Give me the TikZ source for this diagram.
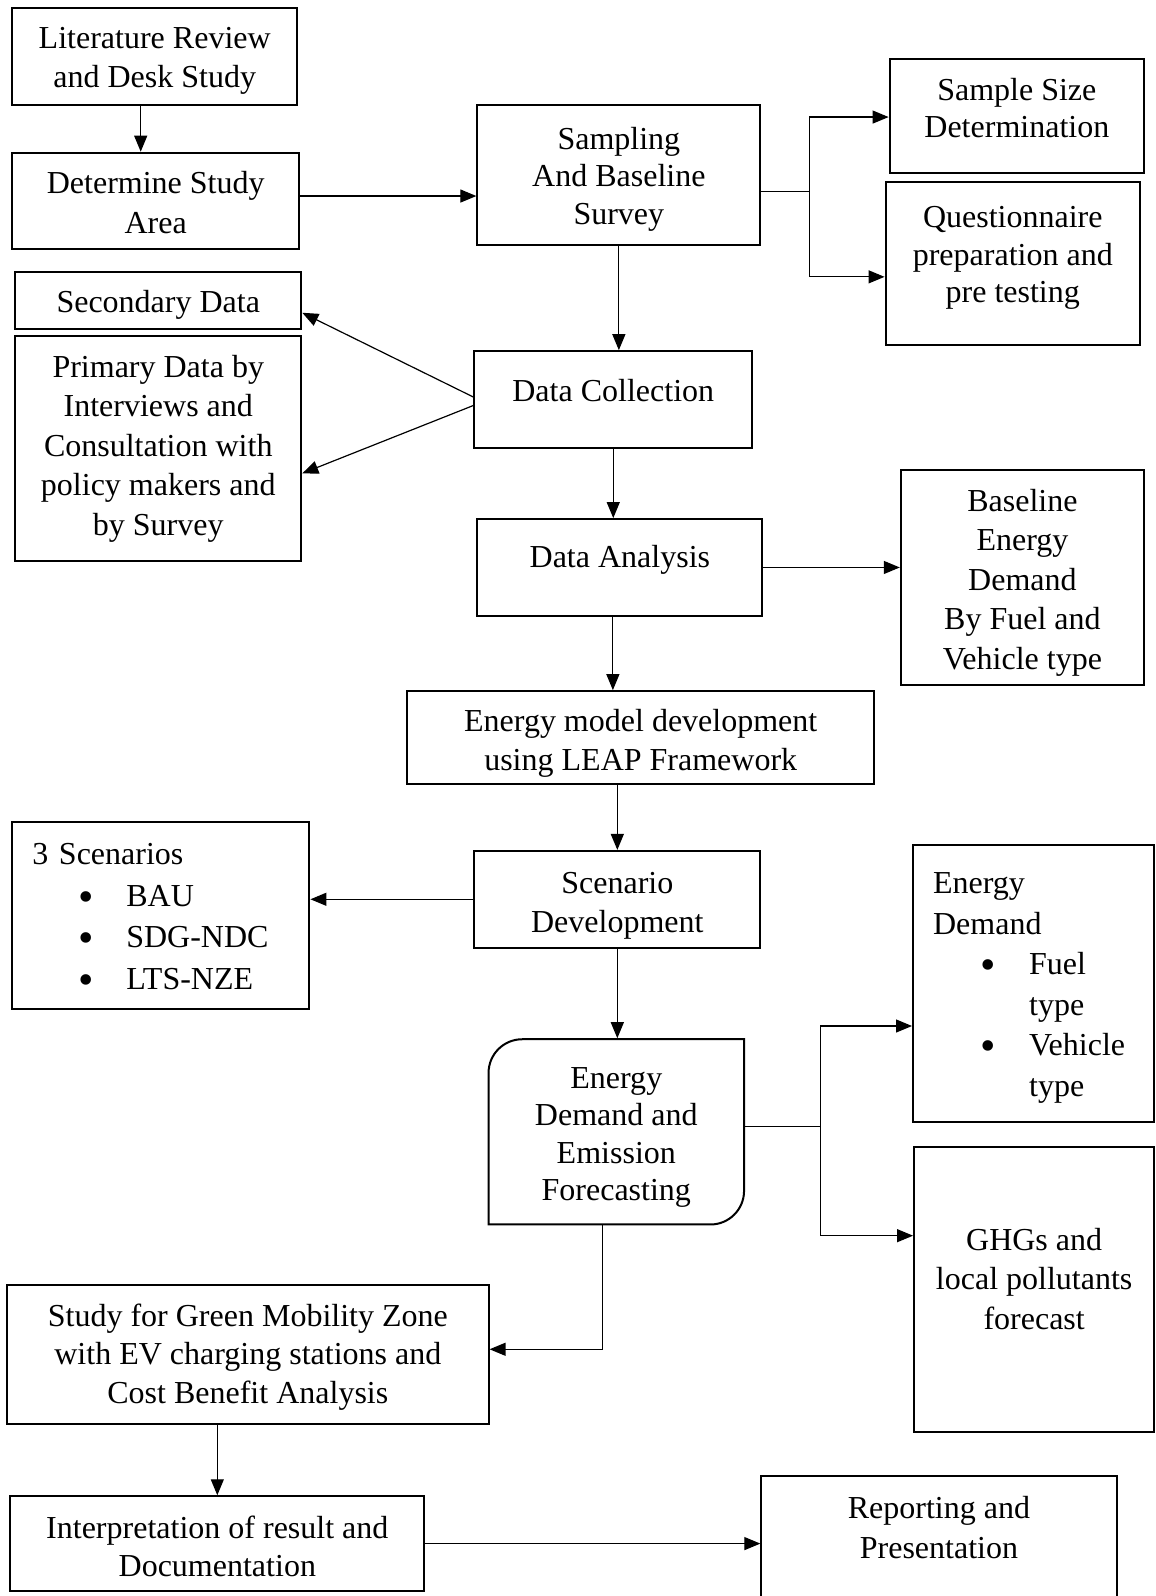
\documentclass[tikz,border=0pt]{standalone}
\usepackage{fontspec}
\setmainfont{Liberation Serif}
\usetikzlibrary{arrows.meta}
\newcommand\txtup[1]{\rule[-#1]{0pt}{#1}}
\newcommand\txtdn[1]{\rule{0pt}{#1}}
\newcommand\bul{\raisebox{-5pt}{\fontsize{44pt}{0pt}\selectfont\textbullet}}
\begin{document}
\begin{tikzpicture}[x=1.01762pt,y=-1.01762pt,
  box/.style={draw, line width=2pt, inner sep=0pt, align=center, font=\fontsize{32pt}{39.5pt}\selectfont},
  region/.style n args={4}{at={({(#1+#3)/2},{(#2+#4)/2})}, minimum width={(#3-#1)*1.01762pt}, minimum height={(#4-#2)*1.01762pt}},
  tight/.style={font=\fontsize{32pt}{37.5pt}\selectfont},
  conn/.style={line width=1.2pt},
  arr/.style={line width=1.2pt, -{Triangle[length=16pt,width=13pt]}}]
\useasboundingbox (0,0) rectangle (1135,1568);

% boxes
\node[box, region={12}{8}{292}{103}, font=\fontsize{32pt}{38.5pt}\selectfont] (lit) {\txtdn{30pt}Literature Review\\and Desk Study};
\node[box, region={12}{150}{294}{245}] (det) {\txtdn{25pt}Determine Study\\Area};
\node[box, tight, region={469}{103}{747}{241}] (samp) {\txtdn{30pt}Sampling\\And Baseline\\Survey};
\node[box, tight, region={874}{58}{1124}{170}] (size) {Sample Size\\Determination\txtup{16pt}};
\node[box, tight, region={870}{179}{1120}{339}] (quest) {\txtdn{28pt}Questionnaire\\preparation and\\pre testing\txtup{25pt}};
\node[box, region={15}{267}{296}{323}] (sec) {\txtdn{32pt}Secondary Data};
\node[box, region={15}{330}{296}{551}] (prim) {Primary Data by\\Interviews and\\Consultation with\\policy makers and\\by Survey};
\node[box, region={466}{345}{739}{440}] (dc) {Data Collection\txtup{18pt}};
\node[box, region={469}{510}{749}{605}] (da) {\txtdn{26pt}Data Analysis\txtup{25pt}};
\node[box, region={885}{462}{1124}{673}] (base) {\txtdn{32pt}Baseline\\Energy\\Demand\\By Fuel and\\Vehicle type};
\node[box, region={400}{679}{859}{770}] (leap) {\txtdn{34pt}Energy model development\\using LEAP Framework};
\node[box, region={12}{808}{304}{991}, align=left, text width=257pt, font=\fontsize{32pt}{41.7pt}\selectfont] (scen) {\txtdn{28pt}3 Scenarios\\
 \hspace*{46pt}\makebox[48pt][l]{\bul}BAU\\
 \hspace*{46pt}\makebox[48pt][l]{\bul}SDG-NDC\\
 \hspace*{46pt}\makebox[48pt][l]{\bul}LTS-NZE};
\node[box, region={466}{836}{747}{931}] (sd) {\txtdn{34pt}Scenario\\Development};
\node[box, tight, draw=none, region={480}{1021}{731}{1203}] (edf) {\txtdn{32pt}Energy\\Demand and\\Emission\\Forecasting};
\draw[line width=2pt] (513,1021) -- (731,1021) -- (731,1170)
  .. controls (731,1188.2) and (716.2,1203) .. (698,1203) -- (480,1203) -- (480,1054)
  .. controls (480,1035.8) and (494.8,1021) .. (513,1021) -- cycle;
\node[box, region={897}{830}{1134}{1102}, align=left, text width=201pt, font=\fontsize{32pt}{40.5pt}\selectfont] (ed) {\txtdn{30pt}Energy\\Demand\\
 \hspace*{47pt}\makebox[49pt][l]{\bul}Fuel\\
 \hspace*{96pt}type\\
 \hspace*{47pt}\makebox[49pt][l]{\bul}Vehicle\\
 \hspace*{96pt}type};
\node[box, region={898}{1127}{1134}{1407}] (ghg) {GHGs and\\local pollutants\\forecast\txtup{22pt}};
\node[box, region={7}{1262}{480}{1399}, font=\fontsize{32pt}{38.5pt}\selectfont] (green) {\txtdn{28pt}Study for Green Mobility Zone\\with EV charging stations and\\Cost Benefit Analysis};
\node[box, region={10}{1470}{417}{1563}, font=\fontsize{32pt}{38.5pt}\selectfont] (interp) {\txtdn{28pt}Interpretation of result and\\Documentation};
\node[box, region={748}{1450}{1097}{1590}] (rep) {Reporting and\\Presentation\txtup{40pt}};

% connectors
\coordinate (litS) at ([xshift=-14pt]lit.south);
\draw[arr] (litS) -- (litS |- det.north);
\coordinate (detE) at ([yshift=5pt]det.east);
\draw[arr] (detE) -- (detE -| samp.west);

\coordinate (sb) at (795,188);
\coordinate (sbT) at (795,115);
\coordinate (sbB) at (795,272);
\draw[conn] (sb -| samp.east) -- (sb);
\draw[conn] (sbT) -- (sbB);
\draw[arr] (sbT) -- (sbT -| size.west);
\draw[arr] (sbB) -- (sbB -| quest.west);

\draw[arr] (samp.south) -- (samp.south |- dc.north);
\draw[arr] ([yshift=2.5pt]dc.west) -- ([yshift=-12.5pt]sec.east);
\draw[arr] ([yshift=-6pt]dc.west) -- ([yshift=-25pt]prim.east);
\draw[arr] (dc.south) -- (dc.south |- da.north);
\draw[arr] (da.east) -- (da.east -| base.west);
\coordinate (daS) at ([xshift=-7pt]da.south);
\draw[arr] (daS) -- (daS |- leap.north);
\draw[arr] (sd.north |- leap.south) -- (sd.north);
\draw[arr] (sd.west) -- (sd.west -| scen.east);
\draw[arr] (sd.south) -- (sd.south |- edf.north);

\coordinate (eb) at (806,1107);
\coordinate (ebT) at (806,1008);
\coordinate (ebB) at (806,1214);
\draw[conn] (eb -| edf.east) -- (eb);
\draw[conn] (ebT) -- (ebB);
\draw[arr] (ebT) -- (ebT -| ed.west);
\draw[arr] (ebB) -- (ebB -| ghg.west);

\coordinate (edfS) at ([xshift=-14pt]edf.south);
\coordinate (grE) at ([yshift=5pt]green.east);
\draw[arr] (edfS) |- (grE);
\draw[arr] (interp.north |- green.south) -- (interp.north);
\draw[arr] (interp.east) -- (interp.east -| rep.west);
\end{tikzpicture}
\end{document}
